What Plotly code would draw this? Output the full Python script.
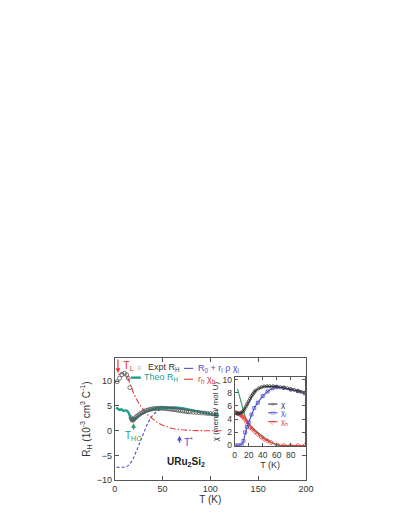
import plotly.graph_objects as go

# ---------------- main panel data ----------------
T_expt = [2.5, 5, 7.5, 10, 12.5, 14, 15.8, 17, 18, 19, 20, 21.5, 23, 25, 27, 29, 31, 33, 35, 37, 39,
          41, 43, 45, 47, 49, 51, 53, 55, 57, 59, 61, 63, 65, 67, 69, 71, 73, 75, 77, 79, 82, 85,
          88, 91, 94, 97, 100, 103, 106]
R_expt = [9.9, 10.6, 11.3, 11.6, 11.3, 10.6, 8.7, 2.6, 2.2, 2.1, 2.3, 2.6, 2.9, 3.2, 3.5, 3.7, 3.9,
          4.1, 4.2, 4.3, 4.4, 4.45, 4.5, 4.5, 4.55, 4.55, 4.5, 4.5, 4.45, 4.4, 4.35, 4.3, 4.25, 4.2,
          4.1, 4.05, 4.0, 3.95, 3.9, 3.85, 3.8, 3.75, 3.7, 3.65, 3.6, 3.55, 3.5, 3.45, 3.4, 3.35]

T_theo = [1.5, 3, 5, 7, 9, 11, 13, 14.5, 16, 17.5, 19, 21, 24, 28, 33, 40, 48, 56, 64, 72, 80, 88,
          96, 104, 109]
R_theo = [4.7, 4.4, 4.2, 4.3, 4.0, 4.1, 4.0, 3.6, 2.8, 2.2, 2.1, 2.4, 2.9, 3.4, 3.9, 4.35, 4.65,
          4.75, 4.7, 4.5, 4.2, 3.8, 3.45, 3.15, 3.0]

T_light = [2, 6, 10, 13, 16, 19, 22, 25, 28, 31, 34, 37, 40, 44, 48, 52, 56, 60, 70, 80, 90, 100, 108]
R_light = [-7.4, -7.4, -7.35, -7.2, -6.7, -5.8, -4.5, -3.0, -1.5, 0.0, 1.3, 2.4, 3.2, 3.9, 4.3,
           4.5, 4.6, 4.6, 4.4, 4.05, 3.7, 3.3, 3.0]

T_heavy = [4, 7, 10, 13, 16, 20, 25, 30, 35, 40, 45, 50, 55, 60, 70, 80, 95, 112]
R_heavy = [11.3, 11.7, 11.6, 11.0, 9.5, 7.4, 5.6, 4.2, 3.1, 2.3, 1.6, 1.1, 0.7, 0.45, 0.2, 0.05, 0, 0]

# ---------------- inset data ----------------
T_chi = [2, 4, 6, 8, 10, 12, 14, 16, 18, 20, 22, 24, 26, 28, 30, 34, 38, 42, 46, 50, 55, 60, 65,
         70, 75, 80, 85, 90, 95, 100]
chi = [4.9, 4.85, 4.85, 4.9, 5.0, 5.2, 5.5, 5.9, 6.3, 6.7, 7.1, 7.5, 7.8, 8.1, 8.35, 8.65, 8.85,
       8.95, 9.0, 9.0, 9.0, 8.95, 8.85, 8.8, 8.7, 8.55, 8.45, 8.3, 8.15, 8.0]

T_chil = [1, 5, 10, 12.5, 15, 17.5, 20, 24, 28, 33, 40, 47, 54, 60, 70, 80, 90, 100]
chil = [0.0, 0.02, 0.1, 0.7, 2.0, 2.8, 3.5, 4.7, 5.7, 6.5, 7.5, 8.2, 8.7, 8.85, 8.75, 8.5, 8.25, 7.95]

T_chih = [1, 3, 5, 8, 10, 12, 14.5, 17, 19, 22, 25, 29, 33, 38, 42, 47, 52, 61, 70, 80, 90, 100]
chih = [5.0, 4.95, 4.85, 4.7, 4.5, 4.3, 4.0, 3.6, 3.2, 2.8, 2.5, 2.1, 1.7, 1.3, 0.97, 0.7, 0.45,
        0.07, 0.0, 0.0, 0.0, 0.0]

T_chifit = [4, 7, 10, 13, 16, 20, 25, 30, 35, 40, 45, 50, 55, 60, 65, 100]
chifit = [8.6, 7.4, 6.2, 5.0, 4.0, 3.3, 2.7, 2.2, 1.75, 1.35, 0.95, 0.6, 0.3, 0.12, 0.02, 0.0]

x_ticks = [0, 50, 100, 150, 200]
y_ticks = [-10, -5, 0, 5, 10]
ix_ticks = [0, 20, 40, 60, 80]
iy_ticks = [0, 2, 4, 6, 8, 10]

W, H = 399, 516
FONT = "Liberation Sans, Arial, sans-serif"
AX = "#555555"
TXT = "#333333"
TEAL = "#1f9e8e"
BLUE = "#4d4dcc"
RED = "#ee3535"
GREEN = "#2e9e5e"


def px(x):
    return x / W


def py(y):
    return 1 - y / H


fig = go.Figure()

fig.add_trace(go.Scatter(x=T_light, y=R_light, mode="lines",
                         line=dict(color=BLUE, width=1.1, dash="3px,2px"), xaxis="x", yaxis="y"))
fig.add_trace(go.Scatter(x=T_heavy, y=R_heavy, mode="lines",
                         line=dict(color=RED, width=1.1, dash="6px,2px,1.5px,2px"), xaxis="x", yaxis="y"))
fig.add_trace(go.Scatter(x=T_theo, y=R_theo, mode="lines",
                         line=dict(color=TEAL, width=2.4), xaxis="x", yaxis="y"))
fig.add_trace(go.Scatter(x=T_expt, y=R_expt, mode="markers",
                         marker=dict(symbol="circle-open", size=4, color="#555555",
                                     line=dict(width=0.8, color="#555555")), xaxis="x", yaxis="y"))

# inset
fig.add_trace(go.Scatter(x=T_chifit, y=chifit, mode="lines",
                         line=dict(color=GREEN, width=1.1), xaxis="x2", yaxis="y2"))
fig.add_trace(go.Scatter(x=T_chih, y=chih, mode="lines+markers",
                         line=dict(color=RED, width=1.1),
                         marker=dict(symbol="diamond-open", size=3.5, color=RED, line=dict(width=0.8)),
                         xaxis="x2", yaxis="y2"))
fig.add_trace(go.Scatter(x=T_chil, y=chil, mode="lines+markers",
                         line=dict(color=BLUE, width=1.1),
                         marker=dict(symbol="square-open", size=3, color=BLUE, line=dict(width=0.8)),
                         xaxis="x2", yaxis="y2"))
fig.add_trace(go.Scatter(x=T_chi, y=chi, mode="lines+markers",
                         line=dict(color="#333333", width=1.1),
                         marker=dict(symbol="circle-open", size=3, color="#333333", line=dict(width=0.8)),
                         xaxis="x2", yaxis="y2"))

axcommon = dict(showgrid=False, zeroline=False, showline=True, linecolor=AX, linewidth=1,
                mirror="ticks", ticks="inside", ticklen=4, tickcolor=AX,
                tickfont=dict(family=FONT, size=9, color=TXT))

fig.update_layout(
    width=W, height=H, margin=dict(l=0, r=0, t=0, b=0),
    paper_bgcolor="white", plot_bgcolor="white", showlegend=False,
    font=dict(family=FONT, color=TXT),
    xaxis=dict(domain=[px(106.7), px(303.3)], range=[0, 200], tickvals=x_ticks,
               title=dict(text="T (K)", font=dict(size=10), standoff=2), anchor="y", **axcommon),
    yaxis=dict(domain=[py(476.7), py(352.7)], range=[-10, 14.7], tickvals=y_ticks,
               title=dict(text="R<sub>H</sub> (10<sup>-3</sup> cm<sup>3</sup> C<sup>-1</sup>)",
                          font=dict(size=10), standoff=4), anchor="x", **axcommon),
    xaxis2=dict(domain=[px(230), px(302.8)], range=[0, 101], tickvals=ix_ticks,
                title=dict(text="T (K)", font=dict(size=9), standoff=0), anchor="y2", **axcommon),
    yaxis2=dict(domain=[py(442.5), py(371.7)], range=[-0.15, 10.45], tickvals=iy_ticks,
                title=dict(text="χ (memu/ mol U)", font=dict(size=8), standoff=2), anchor="x2",
                **axcommon),
)
fig.update_layout(xaxis2=dict(ticklen=3, tickfont=dict(size=8.5)),
                  yaxis2=dict(ticklen=3, tickfont=dict(size=8.5)))

shapes = []
annots = []


def txt(x, y, s, color=TXT, size=9, xanchor="left"):
    annots.append(dict(x=px(x), y=py(y), xref="paper", yref="paper", text=s, showarrow=False,
                       xanchor=xanchor, yanchor="middle",
                       font=dict(family=FONT, size=size, color=color)))


def seg(x0, x1, y, color, width=1.1, dash="solid"):
    shapes.append(dict(type="line", xref="paper", yref="paper", x0=px(x0), x1=px(x1), y0=py(y),
                       y1=py(y), line=dict(color=color, width=width, dash=dash)))


# main legend
txt(131.7, 362.7, "○", color="#555555", size=7, xanchor="center")
txt(139, 362.7, "Expt R<sub>H</sub>", size=9)
seg(123.5, 133.5, 372.7, TEAL, width=2.4)
txt(135, 372.7, "Theo R<sub>H</sub>", color=TEAL, size=9)
seg(178, 188, 363.3, BLUE, dash="dash")
txt(190, 363.3, "R<sub>0</sub> + r<sub>l</sub> ρ χ<sub>l</sub>", color=BLUE, size=9)
seg(178, 188, 374.3, RED, dash="dashdot")
txt(190, 374.3, "r<sub>h</sub> χ<sub>h</sub>", color=RED, size=9)

# inset legend
seg(264.5, 274, 399.5, "#333333")
txt(269.3, 399.5, "○", color="#333333", size=6, xanchor="center")
txt(275.5, 399.5, "χ", size=8)
seg(264.5, 274, 408.3, BLUE)
txt(269.3, 408.3, "□", color=BLUE, size=6, xanchor="center")
txt(275.5, 408.8, "χ<sub>l</sub>", color=BLUE, size=7.5)
seg(264.5, 274, 417.3, RED)
txt(269.3, 417.3, "◇", color=RED, size=6, xanchor="center")
txt(275.5, 417.8, "χ<sub>h</sub>", color=RED, size=7.5)


def arrow(x, yhead, ytail, color):
    annots.append(dict(x=px(x), y=py(yhead), xref="paper", yref="paper", ax=0, ay=ytail - yhead,
                       axref="pixel", ayref="pixel", text="", showarrow=True, arrowhead=2,
                       arrowsize=0.8, arrowwidth=1.2, arrowcolor=color))


arrow(110, 368, 353, RED)
txt(113, 360.5, "T<sub>L</sub>", color=RED, size=11)
arrow(126, 419, 427, GREEN)
txt(125.5, 432, "T<sub>HO</sub>", color=GREEN, size=10, xanchor="center")
arrow(173.3, 431.5, 440, BLUE)
txt(175.5, 437.5, "T<sup>*</sup>", color=BLUE, size=10)
annots.append(dict(x=px(180), y=py(466.7), xref="paper", yref="paper",
                   text="<b>URu<sub>2</sub>Si<sub>2</sub></b>", showarrow=False,
                   font=dict(family=FONT, size=10, color="#222222")))

fig.update_layout(shapes=shapes, annotations=annots)
fig.write_html("out.html")
